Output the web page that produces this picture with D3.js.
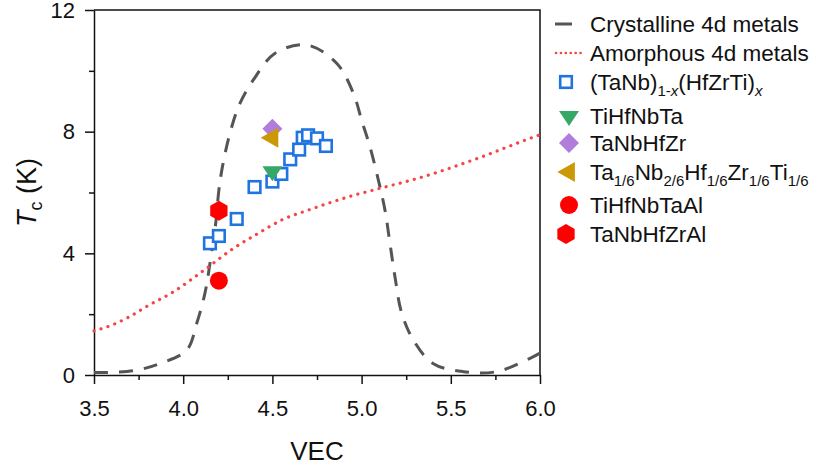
<!DOCTYPE html>
<html>
<head>
<meta charset="utf-8">
<script src="https://cdn.jsdelivr.net/npm/d3@7"></script>
<style>
  body { margin: 0; background: #fff; }
  svg text { font-family: "Liberation Sans", Arial, sans-serif; fill: #111; }
</style>
</head>
<body>
<svg></svg>
<script>
var svgWidth = 821;
var svgHeight = 470;

/* curve data */
var crystVec = [3.5, 3.72, 3.87, 4.02, 4.076, 4.122, 4.15, 4.18, 4.2, 4.22, 4.262, 4.318, 4.393, 4.515, 4.692, 4.86, 4.954, 5.0, 5.047, 5.094, 5.131, 5.159, 5.187, 5.225, 5.29, 5.40, 5.57, 5.757, 5.944, 6.0];
var crystTc  = [0.08, 0.14, 0.38, 0.82, 1.70, 2.69, 3.67, 4.87, 6.08, 6.85, 7.95, 8.93, 9.70, 10.58, 10.85, 10.25, 9.26, 8.38, 7.5, 6.41, 5.42, 4.33, 3.23, 2.03, 1.15, 0.38, 0.11, 0.11, 0.55, 0.72];

var amorVec = [3.5, 3.6, 3.7, 3.8, 3.944, 4.113, 4.281, 4.421, 4.561, 4.701, 4.841, 4.963, 5.066, 5.346, 5.626, 5.944, 6.0];
var amorTc  = [1.45, 1.64, 1.92, 2.27, 2.73, 3.43, 4.16, 4.66, 5.12, 5.42, 5.70, 5.92, 6.08, 6.52, 7.07, 7.78, 7.9];

/* (TaNb)1-x(HfZrTi)x series */
var ssVec = [4.15, 4.2, 4.3, 4.4, 4.5, 4.55, 4.6, 4.65, 4.67, 4.7, 4.75, 4.8];
var ssTc  = [4.33, 4.57, 5.13, 6.18, 6.36, 6.61, 7.09, 7.41, 7.80, 7.88, 7.78, 7.53];

/* single alloys */
var alloyNames = ['TiHfNbTa', 'TaNbHfZr', 'Ta1/6', 'TiHfNbTaAl', 'TaNbHfZrAl'];
var alloyVec = [4.5, 4.5, 4.5, 4.2, 4.2];
var alloyTc  = [6.7, 8.1, 7.8, 3.1, 5.4];

var xTicks = [3.5, 4.0, 4.5, 5.0, 5.5, 6.0];
var xMinor = [3.75, 4.25, 4.75, 5.25, 5.75];
var yTicks = [0, 4, 8, 12];
var yMinor = [2, 6, 10];

var svg = d3.select('svg')
            .attr('width', svgWidth)
            .attr('height', svgHeight);

var x = d3.scaleLinear().domain([3.5, 6]).range([94, 540]);
var y = d3.scaleLinear().domain([0, 12]).range([375, 10]);

var dashStyle = {stroke: '#555', width: 3, dash: '14,11'};
var dotStyle = {stroke: '#f54545', width: 3.2, dash: '0.1,7.2'};

/* marker shapes */
var shapes = {
    square: function(g){
        return g.append('rect').attr('x', -5.8).attr('y', -5.8).attr('width', 11.6).attr('height', 11.6)
                .style('fill', '#fff').style('stroke', '#1f74e0').style('stroke-width', 2.6);
    },
    triDown: function(g){
        return g.append('path').attr('d', 'M-10,-5L10,-5L0,10Z').style('fill', '#36a866');
    },
    diamond: function(g){
        return g.append('path').attr('d', 'M0,-10L10,0L0,10L-10,0Z').style('fill', '#b17ddb');
    },
    triLeft: function(g){
        return g.append('path').attr('d', 'M-11.7,0L5.9,-10L5.9,10Z').style('fill', '#cc9906');
    },
    circle: function(g){
        return g.append('circle').attr('r', 9).style('fill', '#ff0000');
    },
    hexagon: function(g){
        var pts = d3.range(6).map(i => {
            var a = Math.PI / 3 * i - Math.PI / 2;
            return [10 * Math.cos(a), 10 * Math.sin(a)];
        });
        return g.append('path').attr('d', 'M' + pts.join('L') + 'Z').style('fill', '#ff0000');
    }
};
var alloyShape = ['triDown', 'diamond', 'triLeft', 'circle', 'hexagon'];

/* Draw axes, minor ticks and frame */
function drawAxes(){
    svg.append('g').attr('transform', `translate(0,${y(0)})`)
       .call(d3.axisBottom(x).tickValues(xTicks).tickFormat(d3.format('.1f'))
               .tickSizeInner(9).tickSizeOuter(0).tickPadding(16));
    svg.append('g').attr('transform', `translate(0,${y(0)})`)
       .call(d3.axisBottom(x).tickValues(xMinor).tickFormat('').tickSize(5))
       .select('.domain').remove();

    svg.append('g').attr('transform', `translate(${x(3.5)},0)`)
       .call(d3.axisLeft(y).tickValues(yTicks).tickSizeInner(9).tickSizeOuter(0).tickPadding(10));
    svg.append('g').attr('transform', `translate(${x(3.5)},0)`)
       .call(d3.axisLeft(y).tickValues(yMinor).tickFormat('').tickSize(5))
       .select('.domain').remove();

    svg.selectAll('.tick text').style('font-size', '22px').style('font-family', '"Liberation Sans", Arial, sans-serif');
    svg.selectAll('.domain, .tick line').style('stroke', '#111').style('stroke-width', 1.5);

    // top and right frame
    svg.append('path')
       .attr('d', `M${x(3.5)},${y(12)}H${x(6)}V${y(0)}`)
       .style('fill', 'none').style('stroke', '#111').style('stroke-width', 1.5);

    svg.append('text').text('VEC')
       .attr('x', (x(3.5) + x(6)) / 2).attr('y', 460)
       .attr('text-anchor', 'middle').style('font-size', '26px');

    var yl = svg.append('text')
       .attr('transform', `translate(36,${(y(0) + y(12)) / 2}) rotate(-90)`)
       .attr('text-anchor', 'middle').style('font-size', '27px');
    yl.append('tspan').text('T').style('font-style', 'italic');
    yl.append('tspan').text('c').attr('dy', 6).style('font-size', '18px');
    yl.append('tspan').text(' (K)').attr('dy', -6);
}

/* Draw the two reference curves */
function drawCurves(){
    var crystLine = d3.line().x(d => x(d[0])).y(d => y(d[1])).curve(d3.curveCatmullRom.alpha(0.5));
    var amorLine = d3.line().x(d => x(d[0])).y(d => y(d[1])).curve(d3.curveMonotoneX);

    svg.append('path')
       .datum(crystVec.map((v, i) => [v, crystTc[i]]))
       .attr('d', crystLine)
       .style('fill', 'none').style('stroke', dashStyle.stroke).style('stroke-width', dashStyle.width)
       .style('stroke-dasharray', dashStyle.dash);

    svg.append('path')
       .datum(amorVec.map((v, i) => [v, amorTc[i]]))
       .attr('d', amorLine)
       .style('fill', 'none').style('stroke', dotStyle.stroke).style('stroke-width', dotStyle.width)
       .style('stroke-linecap', 'round').style('stroke-dasharray', dotStyle.dash);
}

/* Draw all markers */
function drawMarkers(){
    ssVec.forEach((v, i) => {
        shapes.square(svg.append('g').attr('transform', `translate(${x(v)},${y(ssTc[i])})`));
    });
    alloyVec.forEach((v, i) => {
        shapes[alloyShape[i]](svg.append('g').attr('transform', `translate(${x(v)},${y(alloyTc[i])})`));
    });
}

/* Legend text pieces: [text, kind] kind: n normal, s subscript, si italic subscript */
var legendLabels = [
    [['Crystalline 4d metals', 'n']],
    [['Amorphous 4d metals', 'n']],
    [['(TaNb)', 'n'], ['1-', 's'], ['x', 'si'], ['(HfZrTi)', 'n'], ['x', 'si']],
    [['TiHfNbTa', 'n']],
    [['TaNbHfZr', 'n']],
    [['Ta', 'n'], ['1/6', 's'], ['Nb', 'n'], ['2/6', 's'], ['Hf', 'n'], ['1/6', 's'], ['Zr', 'n'], ['1/6', 's'], ['Ti', 'n'], ['1/6', 's']],
    [['TiHfNbTaAl', 'n']],
    [['TaNbHfZrAl', 'n']]
];
var legendY = [24, 53, 82, 116, 143, 172, 205, 234];
var legendShape = ['dash', 'dots', 'square', 'triDown', 'diamond', 'triLeft', 'circle', 'hexagon'];

function drawLegend(){
    legendLabels.forEach((parts, i) => {
        var cy = legendY[i];
        var kind = legendShape[i];
        if(kind === 'dash'){
            svg.append('line').attr('x1', 555).attr('x2', 572).attr('y1', cy).attr('y2', cy)
               .style('stroke', dashStyle.stroke).style('stroke-width', dashStyle.width);
        } else if(kind === 'dots'){
            svg.append('line').attr('x1', 556).attr('x2', 581).attr('y1', cy).attr('y2', cy)
               .style('stroke', dotStyle.stroke).style('stroke-width', dotStyle.width - 0.6)
               .style('stroke-linecap', 'round').style('stroke-dasharray', '0.1,4.8');
        } else {
            var ox = (kind === 'square' || kind === 'hexagon') ? 566 : 569;
            shapes[kind](svg.append('g').attr('transform', `translate(${ox},${cy})`));
        }

        var t = svg.append('text').attr('x', 590).attr('y', cy + 8).style('font-size', '22.5px');
        var shifted = false;
        parts.forEach(p => {
            var ts = t.append('tspan').text(p[0]);
            var sub = p[1] !== 'n';
            if(sub && !shifted){ ts.attr('dy', 6); shifted = true; }
            if(!sub && shifted){ ts.attr('dy', -6); shifted = false; }
            if(sub) ts.style('font-size', '15px');
            if(p[1] === 'si') ts.style('font-style', 'italic');
        });
    });
}

drawAxes();
drawCurves();
drawMarkers();
drawLegend();
</script>
</body>
</html>
